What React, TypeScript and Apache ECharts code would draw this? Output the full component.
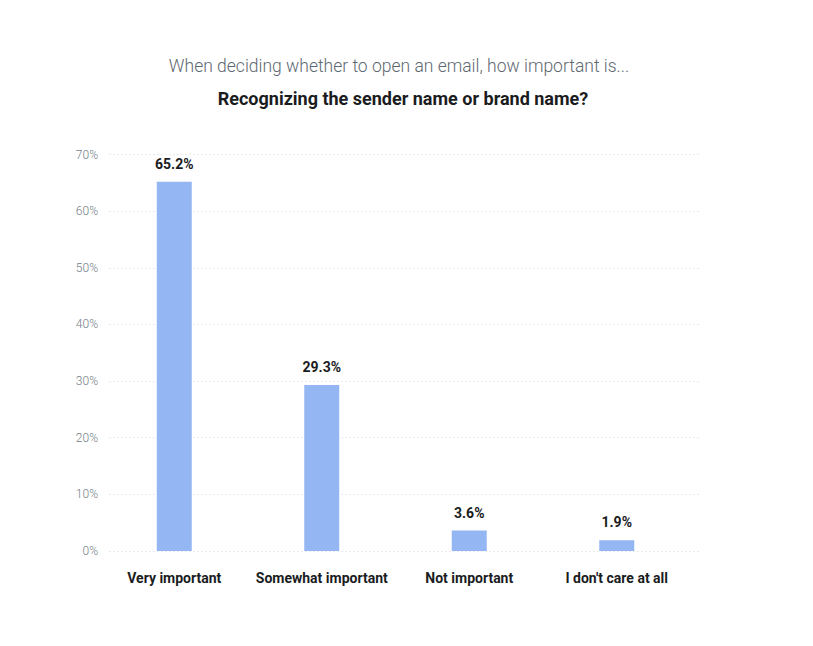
import { useEffect, useRef } from 'react';
import * as echarts from 'echarts';

const categories = ['Very important', 'Somewhat important', 'Not important', "I don't care at all"];
const shares = [65.2, 29.3, 3.6, 1.9];
const yTicks = [0, 10, 20, 30, 40, 50, 60, 70];

const FONT = 'Roboto, "Noto Sans", sans-serif';

export default function App() {
  const ref = useRef<HTMLDivElement>(null);

  useEffect(() => {
    if (!ref.current) return;
    const chart = echarts.init(ref.current, null, { renderer: 'svg' });
    const yMax = yTicks[yTicks.length - 1];
    const step = yTicks[1] - yTicks[0];

    chart.setOption({
      animation: false,
      backgroundColor: '#fff',
      textStyle: { fontFamily: FONT },
      title: [
        {
          text: 'When deciding whether to open an email, how important is...',
          left: 394,
          top: 52,
          textAlign: 'center',
          textStyle: { fontFamily: FONT, fontSize: 17.5, fontWeight: 300, color: '#5d6870' },
        },
        {
          text: 'Recognizing the sender name or brand name?',
          left: 398,
          top: 84,
          textAlign: 'center',
          textStyle: { fontFamily: FONT, fontSize: 18, fontWeight: 'bold', color: '#1a1c1e' },
        },
      ],
      grid: [
        { left: 109, width: 590, top: 154.5, height: 396.5 },
        { left: 100.5, width: 590, top: 154.5, height: 396.5 },
      ],
      xAxis: [
        { type: 'category', gridIndex: 0, data: categories, show: false },
        {
          type: 'category',
          gridIndex: 1,
          data: categories,
          axisLine: { show: false },
          axisTick: { show: false },
          axisLabel: {
            interval: 0,
            margin: 20,
            fontFamily: FONT,
            fontSize: 14,
            fontWeight: 'bold',
            color: '#1a1c1e',
          },
        },
      ],
      yAxis: [
        {
          type: 'value',
          gridIndex: 0,
          min: 0,
          max: yMax,
          interval: step,
          axisLine: { show: false },
          axisTick: { show: false },
          axisLabel: {
            formatter: '{value}%',
            margin: 11,
            fontFamily: FONT,
            fontSize: 12,
            fontWeight: 300,
            color: '#737d85',
          },
          splitLine: { lineStyle: { type: [2, 2], color: '#e8eaec', width: 1 } },
        },
        {
          type: 'value',
          gridIndex: 1,
          min: 0,
          max: yMax,
          interval: step,
          show: false,
          splitLine: { show: false },
        },
      ],
      series: [
        {
          type: 'bar',
          xAxisIndex: 1,
          yAxisIndex: 1,
          data: shares,
          barWidth: 35,
          itemStyle: { color: '#94b6f2' },
          label: {
            show: true,
            position: 'top',
            distance: 11,
            formatter: (p: any) => `${p.value}%`,
            fontFamily: FONT,
            fontSize: 14,
            fontWeight: 'bold',
            color: '#1a1c1e',
          },
        },
      ],
    });

    return () => chart.dispose();
  }, []);

  return <div ref={ref} style={{ position: 'absolute', left: 0, top: 0, width: 813, height: 646 }} />;
}
